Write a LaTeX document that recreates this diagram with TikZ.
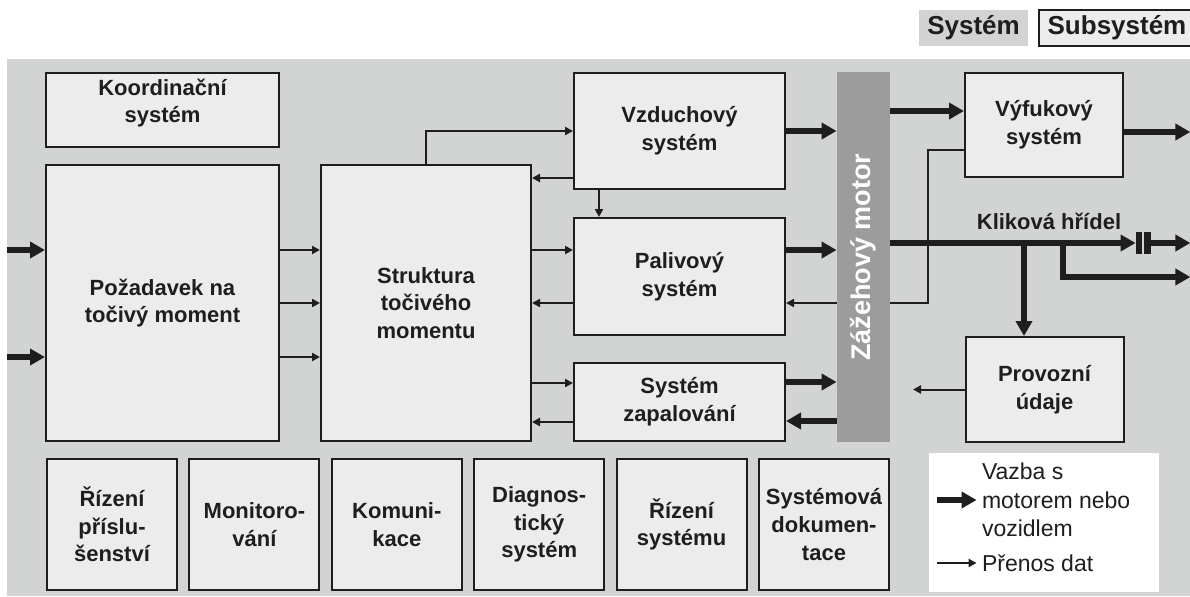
\documentclass[tikz,border=0pt]{standalone}
\usepackage{fontspec}
\setmainfont{Liberation Sans}
\usetikzlibrary{arrows.meta, positioning}

\definecolor{ink}{HTML}{1E1E1E}
\definecolor{boxfill}{HTML}{ECECEC}
\definecolor{bggray}{HTML}{D2D3D3}
\definecolor{enginegray}{HTML}{9C9C9C}

\begin{document}
\begin{tikzpicture}[
    x=0.5pt, y=-0.5pt,
    block/.style={
        rectangle, draw=ink, line width=1pt, fill=boxfill,
        inner sep=0pt, align=center, text=ink,
        font=\bfseries\fontsize{11}{13.8}\selectfont
    },
    subbox/.style={
        block, minimum width=65pt, minimum height=65.5pt
    },
    data/.style={
        -{Triangle[length=4pt, width=4pt]}, line width=1pt, draw=ink
    },
    couple/.style={
        -{Triangle[length=7.5pt, width=8pt]}, line width=2.8pt, draw=ink
    },
    legtext/.style={
        font=\fontsize{11.5}{14.2}\selectfont, text=ink,
        align=left, inner sep=0pt, anchor=west
    }
]
\useasboundingbox (0,0) rectangle (1190,596);

% ── Background ──
\node[fill=bggray, inner sep=0pt, minimum width=591.5pt, minimum height=268.5pt] (bg) at (598.5,327.5) {};

% ── Key at the top ──
\node[fill=bggray, text=ink, inner sep=0pt, minimum width=54.5pt, minimum height=18pt,
      font=\bfseries\fontsize{13}{15}\selectfont] (sys) at (973.5,28) {Systém};
\node[block, minimum width=78pt, minimum height=18pt,
      font=\bfseries\fontsize{13}{15}\selectfont] (subsys) at (1117,28) {Subsystém};

% ── Subsystems ──
\node[block, minimum width=116.5pt, minimum height=37pt] (koord) at (162.5,110)
    {\raisebox{0.5pt}[0pt][0pt]{\begin{tabular}{@{}c@{}}Koordinační\\systém\end{tabular}}};
\node[block, minimum width=116.5pt, minimum height=138pt] (poz) at (162.5,303) {Požadavek na\\točivý moment};
\node[block, minimum width=105pt, minimum height=138pt] (strukt) at (426,303) {Struktura\\točivého\\momentu};
\node[block, minimum width=105.5pt, minimum height=58pt] (vzduch) at (679.5,131) {Vzduchový\\systém};
\node[block, minimum width=105.5pt, minimum height=58.5pt] (paliv) at (679.5,276.5) {Palivový\\systém};
\node[block, minimum width=105.5pt, minimum height=39pt] (zapal) at (679.5,402) {Systém\\zapalování};
\node[block, minimum width=79pt, minimum height=52pt] (vyfuk) at (1044,125) {Výfukový\\systém};
\node[block, minimum width=79pt, minimum height=52.5pt] (provoz) at (1044.5,389.5) {Provozní\\údaje};

% exhaust feedback runs behind the engine bar
\draw[data] ([yshift=-12.5pt]vyfuk.west) -- ++(-36,0) |- ([yshift=-13.25pt]paliv.east);

% ── Engine ──
\node[fill=enginegray, inner sep=0pt, minimum width=26.5pt, minimum height=185pt] (engine) at (863.5,257) {};
\node[rotate=90, text=white, font=\bfseries\fontsize{13.5}{15}\selectfont] (enginelbl) at (engine.center) {Zážehový motor};

% ── Bottom row ──
\node[subbox] (acc) at (112,524.5) {Řízení\\příslu-\\šenství};
\node[subbox, right=5.2pt of acc] (monit) {Monitoro-\\vání};
\node[subbox, right=5.2pt of monit] (komun) {Komuni-\\kace};
\node[subbox, right=5.2pt of komun] (diag) {Diagnos-\\tický\\systém};
\node[subbox, right=5.2pt of diag] (sysctl) {Řízení\\systému};
\node[subbox, right=5.2pt of sysctl] (sysdoc) {Systémová\\dokumen-\\tace};

% ── Inputs ──
\draw[couple] ([yshift=26.5pt]poz.west -| bg.west) -- ([yshift=26.5pt]poz.west);
\draw[couple] ([yshift=-27pt]poz.west -| bg.west) -- ([yshift=-27pt]poz.west);
\foreach \dy in {26.5,0,-27}
    \draw[data] ([yshift=\dy pt]poz.east) -- ([yshift=\dy pt]poz.east -| strukt.west);

% ── Data links ──
\draw[data] (strukt.north) |- (vzduch.west);
\draw[data] ([yshift=-23.5pt]vzduch.west) -- ([yshift=-23.5pt]vzduch.west -| strukt.east);
\draw[data] ([xshift=-40.25pt]vzduch.south) -- ([xshift=-40.25pt]paliv.north);
\draw[data] ([yshift=13.25pt]paliv.west -| strukt.east) -- ([yshift=13.25pt]paliv.west);
\draw[data] ([yshift=-13.25pt]paliv.west) -- ([yshift=-13.25pt]paliv.west -| strukt.east);
\draw[data] ([yshift=9.5pt]zapal.west -| strukt.east) -- ([yshift=9.5pt]zapal.west);
\draw[data] ([yshift=-10pt]zapal.west) -- ([yshift=-10pt]zapal.west -| strukt.east);
\coordinate (opout) at (913,389.5);
\draw[data] (provoz.west) -- (opout);

% ── Engine couplings ──
\draw[couple] (vzduch.east) -- (vzduch.east -| engine.west);
\draw[couple] ([yshift=13.25pt]paliv.east) -- ([yshift=13.25pt]paliv.east -| engine.west);
\draw[couple] ([yshift=10pt]zapal.east) -- ([yshift=10pt]zapal.east -| engine.west);
\draw[couple] ([yshift=-9.5pt]zapal.east -| engine.west) -- ([yshift=-9.5pt]zapal.east);
\draw[couple] ([yshift=7pt]vyfuk.west -| engine.east) -- ([yshift=7pt]vyfuk.west);
\draw[couple] ([yshift=-3.5pt]vyfuk.east) -- ([yshift=-3.5pt]vyfuk.east -| bg.east);

% ── Crankshaft ──
\node[inner sep=0pt, minimum width=7.5pt, minimum height=11pt] (clutch) at (1143.5,243) {};
\fill[ink] (clutch.north west) rectangle ++(6,22);
\fill[ink] (clutch.north east) rectangle ++(-7,22);
\node[text=ink, font=\bfseries\fontsize{11}{13}\selectfont] (shaftlbl) at (1049,221) {Kliková hřídel};
\draw[couple] ([yshift=7pt]engine.east) -- (clutch.west);
\draw[couple] (clutch.east) -- (clutch.east -| bg.east);
\coordinate (shaftsplit) at (1063,243);
\draw[couple] ([yshift=1.4pt]shaftsplit) |- ([yshift=-17pt]clutch.center -| bg.east);
\draw[couple] ([xshift=-10.25pt, yshift=1.4pt]provoz.north |- shaftsplit) -- ([xshift=-10.25pt]provoz.north);

% ── Legend ──
\node[fill=white, inner sep=0pt, minimum width=115pt, minimum height=69.5pt] (legend) at (1044,522.5) {};
\node[legtext] (lgcouple) at ([xshift=26.5pt, yshift=11.25pt]legend.west) {Vazba s\\motorem nebo\\vozidlem};
\node[legtext] (lgdata) at ([xshift=26.5pt, yshift=-20.25pt]legend.west) {Přenos dat};
\draw[couple] ([xshift=4pt]lgcouple.west -| legend.west) -- ([xshift=-2.5pt]lgcouple.west);
\draw[data] ([xshift=4pt]lgdata.west -| legend.west) -- ([xshift=-2.5pt]lgdata.west);

\end{tikzpicture}
\end{document}
